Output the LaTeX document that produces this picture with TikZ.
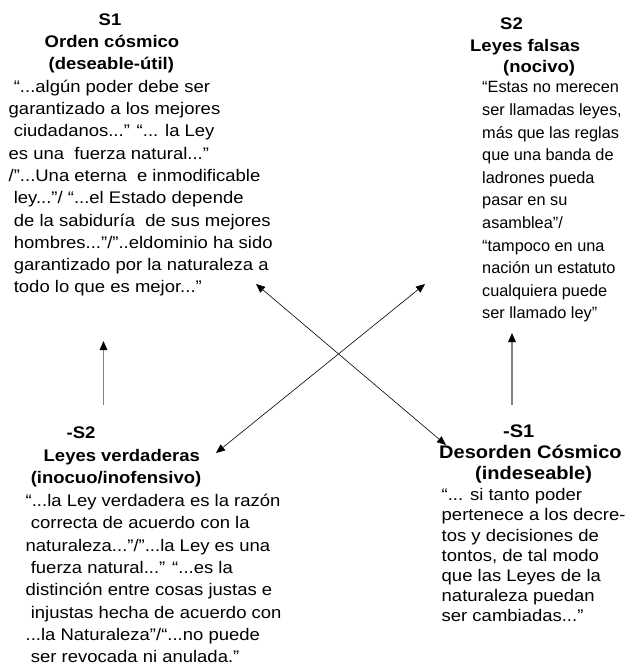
\documentclass[tikz,border=0pt]{standalone}
\usepackage{fontspec}
\setmainfont{Liberation Sans}[FakeStretch=1.1]
\newfontfamily\sansdroit{Liberation Sans}
\usetikzlibrary{arrows.meta}

\begin{document}
\begin{tikzpicture}[x=1pt, y=-1pt,
    texte/.style={anchor=north west, inner sep=0pt, align=left,
        font=\fontsize{16.8}{22.3}\selectfont},
    titre/.style={texte, font=\fontsize{16.8}{22.3}\selectfont\bfseries},
    montee/.style={draw=gray, line width=1.4pt,
        -{Triangle[length=9pt,width=7.5pt,color=black]}},
    croix/.style={line width=0.6pt,
        {Triangle[length=9pt,width=7.5pt]}-{Triangle[length=9pt,width=7.5pt]}}]
    % Cadre de l'image
    \useasboundingbox (0,0) rectangle (627,667);
    % S1 : en haut a gauche
    \node[titre] (s1titre) at (8.5,13.2) {\hspace*{90pt}S1\\
        \hspace*{36pt}Orden cósmico\\
        \hspace*{40pt}(deseable-útil)};
    \node[texte] (s1texte) at (8.5,79.7) {\ “...algún poder debe ser\\
        garantizado a los mejores\\
        \ ciudadanos...” “... la Ley\\
        es una\ \ fuerza natural...”\\
        /”...Una eterna\ \ e inmodificable\\
        \ ley...”/ “...el Estado depende\\
        \ de la sabiduría\ \ de sus mejores\\
        \ hombres...”/”..eldominio ha sido\\
        \ garantizado por la naturaleza a\\
        \ todo lo que es mejor...”};
    % S2 : en haut a droite
    \node[titre, font=\fontsize{16.8}{21.5}\selectfont\bfseries] (s2titre)
        at (470,17.7) {\hspace*{30pt}S2\\
        Leyes falsas\\
        \hspace*{33pt}(nocivo)};
    \node[texte, font=\sansdroit\fontsize{16.3}{22.6}\selectfont] (s2texte)
        at (482,81.5) {“Estas no merecen\\
        ser llamadas leyes,\\
        más que las reglas\\
        que una banda de\\
        ladrones pueda\\
        pasar en su\\
        asamblea”/\\
        “tampoco en una\\
        nación un estatuto\\
        cualquiera puede\\
        ser llamado ley”};
    % -S2 : en bas a gauche
    \node[titre] (ns2titre) at (25.5,427) {\hspace*{41pt}-S2\\
        \hspace*{18pt}Leyes verdaderas\\
        \ (inocuo/inofensivo)};
    \node[texte] (ns2texte) at (25.5,494) {“...la Ley verdadera es la razón\\
        \ correcta de acuerdo con la\\
        naturaleza...”/”...la Ley es una\\
        \ fuerza natural...” “...es la\\
        distinción entre cosas justas e\\
        \ injustas hecha de acuerdo con\\
        ...la Naturaleza”/“...no puede\\
        \ ser revocada ni anulada.”};
    % -S1 : en bas a droite
    \node[titre, font=\fontsize{18.2}{20.8}\selectfont\bfseries] (ns1titre)
        at (439,425) {\hspace*{64pt}-S1\\
        Desorden Cósmico\\
        \hspace*{36pt}(indeseable)};
    \node[texte, font=\fontsize{16.8}{20.1}\selectfont] (ns1texte)
        at (441.5,488.5) {“... si tanto poder\\
        pertenece a los decre-\\
        tos y decisiones de\\
        tontos, de tal modo\\
        que las Leyes de la\\
        naturaleza puedan\\
        ser cambiadas...”};
    % Extremites des fleches
    \coordinate (gbas) at (103.5,405);
    \coordinate (ghaut) at (103.5,341);
    \coordinate (dbas) at (512,405);
    \coordinate (dhaut) at (512,333);
    \coordinate (s1coin) at (256,284);
    \coordinate (ns1coin) at (446,445);
    \coordinate (s2coin) at (425,284);
    \coordinate (ns2coin) at (216,453);
    % Fleches
    \draw[montee] (gbas) -- (ghaut);
    \draw[montee] (dbas) -- (dhaut);
    \draw[croix] (s1coin) -- (ns1coin);
    \draw[croix] (s2coin) -- (ns2coin);
\end{tikzpicture}
\end{document}
